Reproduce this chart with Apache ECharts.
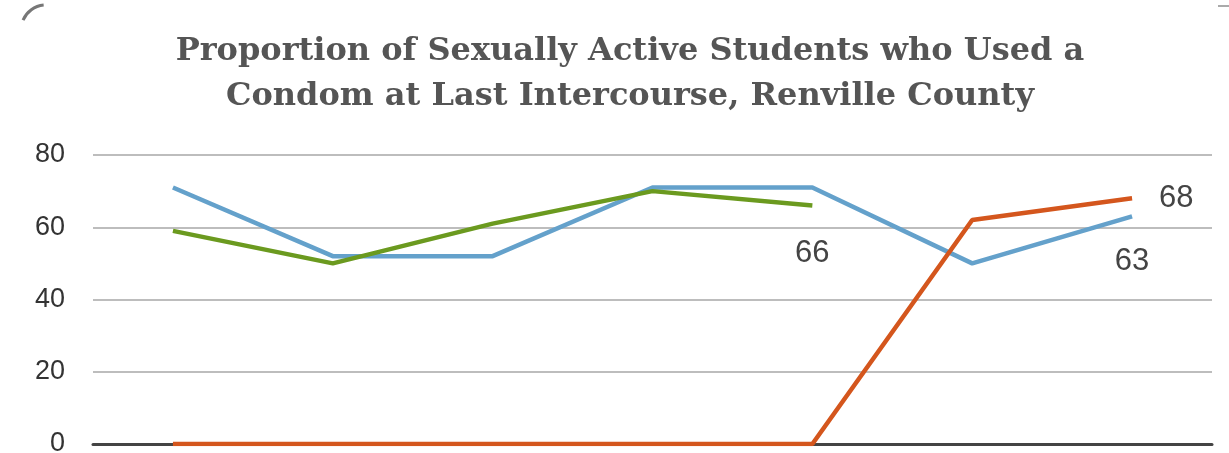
<!DOCTYPE html>
<html><head><meta charset="utf-8">
<script src="https://cdn.jsdelivr.net/npm/echarts@6/dist/echarts.min.js"></script>
<style>html,body{margin:0;padding:0;background:#fff}#c{width:1229px;height:453px}</style>
</head><body><div id="c"></div>
<script>
var categories = ['1', '2', '3', '4', '5', '6', '7'];
var blueValues = [71, 52, 52, 71, 71, 50, 63];
var greenValues = [59, 50, 61, 70, 66, null, null];
var orangeValues = [0, 0, 0, 0, 0, 62, 68];
var yTicks = [0, 20, 40, 60, 80];
var titleText = 'Proportion of Sexually Active Students who Used a\nCondom at Last Intercourse, Renville County';

function lastLabel(arr, pos, dist) {
  var last = -1;
  arr.forEach(function (v, i) { if (v !== null) last = i; });
  return arr.map(function (v, i) {
    if (i !== last) return v;
    return { value: v, label: { show: true, position: pos, distance: dist } };
  });
}

var labelStyle = { color: '#444', fontSize: 31, fontFamily: 'Liberation Sans' };

var chart = echarts.init(document.getElementById('c'));
chart.setOption({
  animation: false,
  title: {
    text: titleText,
    left: 625, top: 24, textAlign: 'center',
    textStyle: { fontFamily: 'DejaVu Serif', fontWeight: 'bold', fontSize: 32, color: '#555', lineHeight: 45 }
  },
  graphic: [
    { type: 'arc', shape: { cx: 46, cy: 30, r: 25, startAngle: Math.PI * 1.13, endAngle: Math.PI * 1.47, clockwise: true },
      style: { stroke: '#777', lineWidth: 3, fill: null } },
    { type: 'line', shape: { x1: 1218, y1: 6, x2: 1229, y2: 6 }, style: { stroke: '#aaa', lineWidth: 2 } }
  ],
  grid: { left: 93, right: 17, top: 155, bottom: 9, outerBoundsMode: 'none', containLabel: false },
  xAxis: {
    type: 'category', data: categories, boundaryGap: true,
    axisLine: { show: true, lineStyle: { color: '#444', width: 3 } },
    axisTick: { show: false }, axisLabel: { show: false }
  },
  yAxis: {
    type: 'value', min: yTicks[0], max: yTicks[yTicks.length - 1], interval: 20,
    axisLine: { show: false }, axisTick: { show: false },
    axisLabel: { color: '#333', fontSize: 27, fontFamily: 'Liberation Sans', margin: 28 },
    splitLine: { lineStyle: { color: '#bdbdbd', width: 2 } }
  },
  series: [
    { type: 'line', data: lastLabel(blueValues, 'bottom', 30), showSymbol: true, symbol: 'circle', symbolSize: 0,
      lineStyle: { color: '#64a1cb', width: 4.5 }, itemStyle: { color: '#64a1cb' },
      label: labelStyle },
    { type: 'line', data: lastLabel(greenValues, 'bottom', 32), showSymbol: true, symbol: 'circle', symbolSize: 0,
      lineStyle: { color: '#6b9a1f', width: 4.5 }, itemStyle: { color: '#6b9a1f' },
      label: labelStyle },
    { type: 'line', data: lastLabel(orangeValues, 'right', 27), showSymbol: true, symbol: 'circle', symbolSize: 0,
      lineStyle: { color: '#d4561d', width: 4.5 }, itemStyle: { color: '#d4561d' },
      label: labelStyle }
  ]
});
</script></body></html>
